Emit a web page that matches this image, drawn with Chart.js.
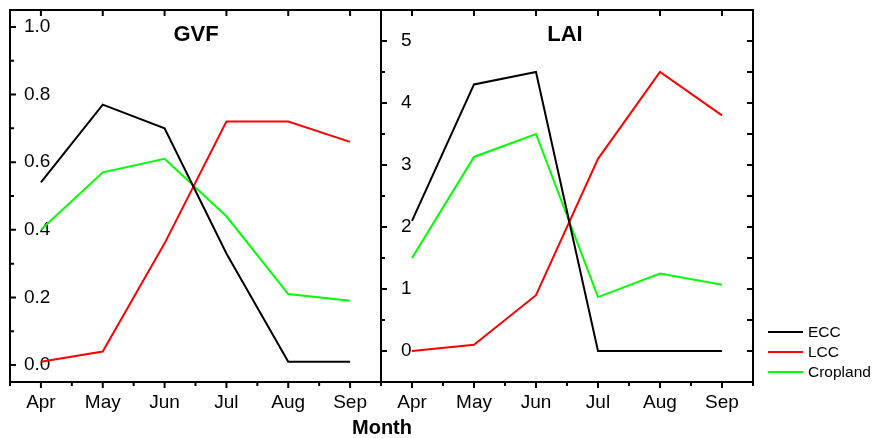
<!DOCTYPE html>
<html>
<head>
<meta charset="utf-8">
<script src="https://cdn.jsdelivr.net/npm/chart.js@4"></script>
<style>
  body { margin: 0; background: #fff; }
  #wrap { position: relative; width: 873px; height: 438px; font-family: "Liberation Sans", Arial, sans-serif; }
  canvas { position: absolute; left: 0; top: 0; }
  .lbl { position: absolute; transform: translate(-50%, -50%); line-height: 1; white-space: nowrap; color: #000; }
  .panel-title { font-weight: bold; font-size: 22px; }
  #month { font-weight: bold; font-size: 20px; }
  #legend { position: absolute; left: 768px; top: 322px; font-size: 15.5px; }
  #legend div { height: 20px; display: flex; align-items: center; }
  #legend span.sw { display: inline-block; width: 35px; height: 2px; margin-right: 5px; }
</style>
</head>
<body>
<div id="wrap">
  <canvas id="gvf" width="873" height="438"></canvas>
  <canvas id="lai" width="873" height="438"></canvas>
  <div class="lbl panel-title" style="left:196px; top:34px;">GVF</div>
  <div class="lbl panel-title" style="left:565px; top:34px;">LAI</div>
  <div class="lbl" id="month" style="left:382px; top:427px;">Month</div>
  <div id="legend"></div>
</div>
<script>
var months = ['Apr', 'May', 'Jun', 'Jul', 'Aug', 'Sep'];
var seriesNames = ['ECC', 'LCC', 'Cropland'];
var seriesColors = ['#000000', '#ff0000', '#00ff00'];

// GVF panel
var gvfEcc  = [0.54, 0.77, 0.70, 0.33, 0.01, 0.01];
var gvfLcc  = [0.01, 0.04, 0.36, 0.72, 0.72, 0.66];
var gvfCrop = [0.40, 0.57, 0.61, 0.44, 0.21, 0.19];
var gvfTicks = [0, 0.2, 0.4, 0.6, 0.8, 1.0];

// LAI panel
var laiEcc  = [2.1, 4.3, 4.5, 0, 0, 0];
var laiLcc  = [0, 0.1, 0.9, 3.1, 4.5, 3.8];
var laiCrop = [1.5, 3.13, 3.5, 0.87, 1.25, 1.07];
var laiTicks = [0, 1, 2, 3, 4, 5];

var FONT = "'Liberation Sans', Arial, sans-serif";

// frame + inward/outward tick marks (the library has no minor ticks)
var frameTicks = {
    id: 'frameTicks',
    afterDatasetsDraw: function(chart, args, opts) {
        var ctx = chart.ctx, a = chart.chartArea;
        var x = chart.scales.x, y = chart.scales.y;
        ctx.save();
        ctx.strokeStyle = '#000';
        ctx.lineWidth = 2;
        ctx.strokeRect(a.left, a.top, a.right - a.left, a.bottom - a.top);
        ctx.beginPath();
        for (var i = -0.5; i <= months.length - 0.5; i += 0.5) {
            var px = x.getPixelForValue(i);
            var major = Number.isInteger(i);
            ctx.moveTo(px, a.bottom);
            ctx.lineTo(px, a.bottom + (major ? 6 : 4));
            if (major) {
                ctx.moveTo(px, a.top);
                ctx.lineTo(px, a.top + 6);
            }
        }
        var t = opts.ticks, step = t[1] - t[0];
        for (var v = t[0]; v <= t[t.length - 1] + 1e-9; v += step / 2) {
            var py = y.getPixelForValue(v);
            var isMajor = Math.abs((v - t[0]) / step - Math.round((v - t[0]) / step)) < 1e-6;
            ctx.moveTo(a.left, py);
            ctx.lineTo(a.left + (isMajor ? 6 : 4), py);
            if (opts.right) {
                ctx.moveTo(a.right, py);
                ctx.lineTo(a.right - 6, py);
            }
        }
        ctx.stroke();
        ctx.restore();
    }
};

function makeDatasets(vals) {
    return vals.map(function(v, i) {
        return {
            label: seriesNames[i],
            data: v,
            borderColor: seriesColors[i],
            backgroundColor: seriesColors[i],
            borderWidth: 2,
            pointRadius: 0,
            tension: 0
        };
    });
}

function noPad(s) {
    s.paddingTop = 0; s.paddingBottom = 0;
    s.paddingLeft = 0; s.paddingRight = 0;
}

function makeChart(id, vals, ticks, ymin, ymax, digits, pad, labelPad, right) {
    return new Chart(document.getElementById(id), {
        type: 'line',
        data: { labels: months, datasets: makeDatasets(vals) },
        plugins: [frameTicks],
        options: {
            responsive: false,
            animation: false,
            layout: { padding: pad },
            plugins: {
                legend: { display: false },
                tooltip: { enabled: false },
                frameTicks: { ticks: ticks, right: right }
            },
            scales: {
                x: {
                    type: 'category',
                    offset: true,
                    grid: { display: false, drawTicks: false },
                    border: { display: false },
                    ticks: { color: '#000', font: { family: FONT, size: 19 }, padding: 9, maxRotation: 0 },
                    afterFit: function(s) { s.height = 56; noPad(s); }
                },
                y: {
                    min: ymin,
                    max: ymax,
                    grid: { display: false, drawTicks: false },
                    border: { display: false },
                    afterBuildTicks: function(s) {
                        s.ticks = ticks.map(function(v) { return { value: v }; });
                    },
                    ticks: {
                        mirror: true,
                        padding: labelPad,
                        color: '#000',
                        font: { family: FONT, size: 19 },
                        callback: function(v) { return Number(v).toFixed(digits); }
                    },
                    afterFit: function(s) { s.width = 0; noPad(s); }
                }
            }
        }
    });
}

makeChart('gvf', [gvfEcc, gvfLcc, gvfCrop], gvfTicks, -0.05, 1.05, 1,
    { left: 10, right: 492, top: 10, bottom: 0 }, 14, false);
makeChart('lai', [laiEcc, laiLcc, laiCrop], laiTicks, -0.5, 5.5, 0,
    { left: 381, right: 120, top: 10, bottom: 0 }, 20, true);

var legend = document.getElementById('legend');
seriesNames.forEach(function(name, i) {
    var row = document.createElement('div');
    var sw = document.createElement('span');
    sw.className = 'sw';
    sw.style.background = seriesColors[i];
    row.appendChild(sw);
    row.appendChild(document.createTextNode(name));
    legend.appendChild(row);
});
</script>
</body>
</html>
